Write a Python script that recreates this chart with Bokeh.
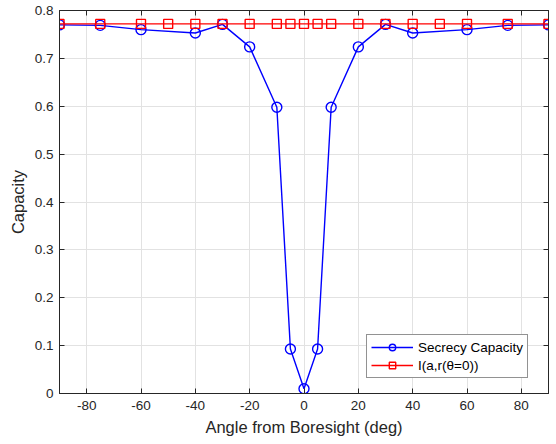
from bokeh.plotting import figure
from bokeh.models import FixedTicker, LinearAxis, Range1d, Legend
from bokeh.embed import file_html
from bokeh.resources import INLINE

# data
sc_angle = [-90, -75, -60, -40, -30, -20, -10, -5, 0, 5, 10, 20, 30, 40, 60, 75, 90]
sc_value = [0.770, 0.769, 0.760, 0.753, 0.771, 0.724, 0.598, 0.093, 0.010,
            0.093, 0.598, 0.724, 0.771, 0.753, 0.760, 0.769, 0.770]
ia_angle = [-90, -75, -60, -50, -40, -30, -20, -10, -5, 0, 5, 10, 20, 30, 40, 50, 60, 75, 90]
ia_value = [0.772] * len(ia_angle)

x_ticks = [-80, -60, -40, -20, 0, 20, 40, 60, 80]
x_labels = ["-80", "-60", "-40", "-20", "0", "20", "40", "60", "80"]
y_ticks = [0, 0.1, 0.2, 0.3, 0.4, 0.5, 0.6, 0.7, 0.8]
y_labels = ["0", "0.1", "0.2", "0.3", "0.4", "0.5", "0.6", "0.7", "0.8"]

FONT = "Liberation Sans"
AX = "#262626"

p = figure(frame_width=489, frame_height=383, output_backend="svg", toolbar_location=None,
           x_range=Range1d(-90, 90), y_range=Range1d(0, 0.8),
           min_border_left=59, min_border_right=8, min_border_top=10, min_border_bottom=51,
           background_fill_color="white", border_fill_color="white")
p.outline_line_color = AX
p.outline_line_width = 1

for ax, ticks, labels in ((p.xaxis[0], x_ticks, x_labels), (p.yaxis[0], y_ticks, y_labels)):
    ax.ticker = FixedTicker(ticks=ticks)
    ax.major_label_overrides = {t: l for t, l in zip(ticks, labels)}
    ax.major_tick_in = 5
    ax.major_tick_out = 0
    ax.minor_tick_line_color = None
    ax.axis_line_color = AX
    ax.major_tick_line_color = AX
    ax.major_label_text_font = FONT
    ax.major_label_text_font_size = "13.5px"
    ax.major_label_text_color = AX
    ax.axis_label_text_font = FONT
    ax.axis_label_text_font_size = "16.5px"
    ax.axis_label_text_font_style = "normal"
    ax.axis_label_text_color = AX

p.xaxis[0].axis_label = "Angle from Boresight (deg)"
p.yaxis[0].axis_label = "Capacity"
p.xaxis[0].major_label_standoff = 7
p.xaxis[0].axis_label_standoff = 5
p.yaxis[0].major_label_standoff = 6
p.yaxis[0].axis_label_standoff = 5

for loc, ticks in (("above", x_ticks), ("right", y_ticks)):
    a = LinearAxis(ticker=FixedTicker(ticks=ticks), major_tick_in=5, major_tick_out=0,
                   minor_tick_line_color=None, axis_line_color=AX, major_tick_line_color=AX,
                   major_label_overrides={t: "" for t in ticks}, major_label_standoff=0)
    p.add_layout(a, loc)

p.xgrid.ticker = FixedTicker(ticks=x_ticks)
p.ygrid.ticker = FixedTicker(ticks=y_ticks)
p.grid.grid_line_color = "#e2e2e2"
p.grid.grid_line_width = 1

r1 = p.line(sc_angle, sc_value, line_color="#0000ff", line_width=1.4)
r2 = p.scatter(sc_angle, sc_value, marker="circle", size=10, line_color="#0000ff",
               fill_color=None, line_width=1.4)
r3 = p.line(ia_angle, ia_value, line_color="#ff0000", line_width=1.4)
r4 = p.scatter(ia_angle, ia_value, marker="square", size=9, line_color="#ff0000",
               fill_color=None, line_width=1.4)

legend = Legend(items=[("Secrecy Capacity", [r1, r2]), ("I(a,r(θ=0))", [r3, r4])],
                location=(307, 15))
legend.margin = 0
legend.label_text_font = FONT
legend.label_text_font_size = "13.5px"
legend.label_text_color = "#000000"
legend.border_line_color = AX
legend.border_line_width = 1
legend.background_fill_alpha = 1
legend.glyph_width = 42
legend.glyph_height = 16
legend.label_height = 16
legend.spacing = 2
legend.padding = 4
legend.label_standoff = 5
p.add_layout(legend, "center")

open("out.html", "w").write(file_html(p, INLINE))
